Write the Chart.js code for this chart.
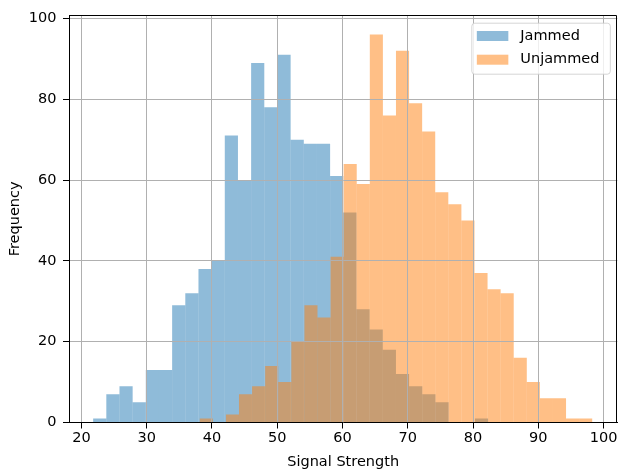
<!DOCTYPE html>
<html><head><meta charset="utf-8">
<script src="https://cdn.jsdelivr.net/npm/chart.js@4"></script>
<style>html,body{margin:0;padding:0;background:#fff;overflow:hidden;}</style>
</head><body>
<canvas id="c" width="619" height="473" style="display:block;width:619px;height:473px"></canvas>
<script>
// ---- data ----
const seriesLabels = ['Jammed', 'Unjammed'];
const jammedCounts = [1,7,9,5,13,13,29,32,38,40,71,60,89,78,91,70,69,69,61,52,28,23,18,12,9,7,5,0,0,1];
const unjammedCounts = [1,0,2,7,9,14,10,20,29,26,41,64,59,96,76,92,79,72,57,54,50,37,33,32,16,10,6,6,1,1];
const jammedBinRange = [21.8, 82.3];
const unjammedBinRange = [38.13, 98.25];
const xTickValues = [20,30,40,50,60,70,80,90,100];
const yTickValues = [0,20,40,60,80,100];
const xLimits = [18.1, 102.1];
const yLimits = [0, 100.8];
const xTitle = 'Signal Strength';
const yTitle = 'Frequency';

// histogram bins: equal-width bins over the range (like numpy.histogram)
function histPoints(range, counts) {
  const w = (range[1] - range[0]) / counts.length;
  return counts.map((c, i) => ({ x: range[0] + (i + 0.5) * w, y: c }));
}

const FONT = { family: 'DejaVu Sans', size: 14.5 };

const framePlugin = {
  id: 'frame',
  afterDraw(chart) {
    const { ctx, chartArea: a } = chart;
    ctx.save();
    ctx.strokeStyle = '#000';
    ctx.lineWidth = 1;
    ctx.beginPath();
    ctx.moveTo(Math.round(a.left) + 0.5, Math.round(a.top) + 0.5);
    ctx.lineTo(Math.round(a.right) - 0.5, Math.round(a.top) + 0.5);
    ctx.lineTo(Math.round(a.right) - 0.5, Math.round(a.bottom));
    ctx.stroke();
    ctx.restore();
  }
};

const legendPlugin = {
  id: 'mplLegend',
  afterDraw(chart) {
    const { ctx, chartArea: a } = chart;
    const W = 138.5, H = 51;
    const x0 = a.right - 7 - W, y0 = a.top + 8;
    ctx.save();
    const r = 3;
    ctx.beginPath();
    ctx.moveTo(x0 + r, y0);
    ctx.lineTo(x0 + W - r, y0);
    ctx.quadraticCurveTo(x0 + W, y0, x0 + W, y0 + r);
    ctx.lineTo(x0 + W, y0 + H - r);
    ctx.quadraticCurveTo(x0 + W, y0 + H, x0 + W - r, y0 + H);
    ctx.lineTo(x0 + r, y0 + H);
    ctx.quadraticCurveTo(x0, y0 + H, x0, y0 + H - r);
    ctx.lineTo(x0, y0 + r);
    ctx.quadraticCurveTo(x0, y0, x0 + r, y0);
    ctx.closePath();
    ctx.fillStyle = 'rgba(255,255,255,0.8)';
    ctx.fill();
    ctx.strokeStyle = 'rgba(204,204,204,0.8)';
    ctx.lineWidth = 1;
    ctx.stroke();
    ctx.font = FONT.size + 'px ' + FONT.family;
    ctx.textBaseline = 'middle';
    ctx.textAlign = 'left';
    chart.data.datasets.forEach((ds, i) => {
      const cy = y0 + 12.8 + i * 23.7;
      ctx.fillStyle = ds.backgroundColor;
      ctx.fillRect(x0 + 5, cy - 5, 31.5, 10);
      ctx.fillStyle = '#000';
      ctx.fillText(ds.label, x0 + 48.5, cy);
    });
    ctx.restore();
  }
};

const commonTicks = { color: '#000', font: FONT };
const gridOpts = { color: '#b0b0b0', lineWidth: 1, tickColor: '#000', tickLength: 6, tickWidth: 1, z: 1, offset: false };

new Chart(document.getElementById('c').getContext('2d'), {
  type: 'bar',
  data: {
    datasets: [
      { label: seriesLabels[0], data: histPoints(jammedBinRange, jammedCounts), xAxisID: 'x',
        backgroundColor: 'rgba(31,119,180,0.5)', borderWidth: 0, order: 1, inflateAmount: 0,
        barPercentage: 1, categoryPercentage: 1, grouped: false },
      { label: seriesLabels[1], data: histPoints(unjammedBinRange, unjammedCounts), xAxisID: 'x2',
        backgroundColor: 'rgba(255,127,14,0.5)', borderWidth: 0, order: 0, inflateAmount: 0,
        barPercentage: 1, categoryPercentage: 1, grouped: false }
    ]
  },
  options: {
    responsive: false, animation: false, devicePixelRatio: 1,
    layout: { padding: { left: 0, right: 1.5, top: 12.5, bottom: 0 } },
    plugins: { legend: { display: false }, tooltip: { enabled: false } },
    scales: {
      x: {
        type: 'linear', position: 'bottom', min: xLimits[0], max: xLimits[1], offset: false,
        afterBuildTicks: s => { s.ticks = xTickValues.map(v => ({ value: v })); },
        afterFit: s => { s.height = 50.5; },
        grid: gridOpts,
        border: { color: '#000', width: 1, z: 2 },
        ticks: Object.assign({ padding: 1.5, maxRotation: 0, autoSkip: false }, commonTicks),
        title: { display: true, text: xTitle, color: '#000', font: FONT, padding: { top: 0, bottom: 2.3 } }
      },
      x2: { type: 'linear', display: false, min: xLimits[0], max: xLimits[1], offset: false },
      y: {
        type: 'linear', position: 'left', min: yLimits[0], max: yLimits[1],
        afterBuildTicks: s => { s.ticks = yTickValues.map(v => ({ value: v })); },
        afterFit: s => { s.width = 69; },
        grid: gridOpts,
        border: { color: '#000', width: 1, z: 2 },
        ticks: Object.assign({ padding: 6.5, autoSkip: false }, commonTicks),
        title: { display: true, text: yTitle, color: '#000', font: FONT, padding: { top: 6.3, bottom: 0 } }
      }
    }
  },
  plugins: [framePlugin, legendPlugin]
});
</script>
</body></html>
